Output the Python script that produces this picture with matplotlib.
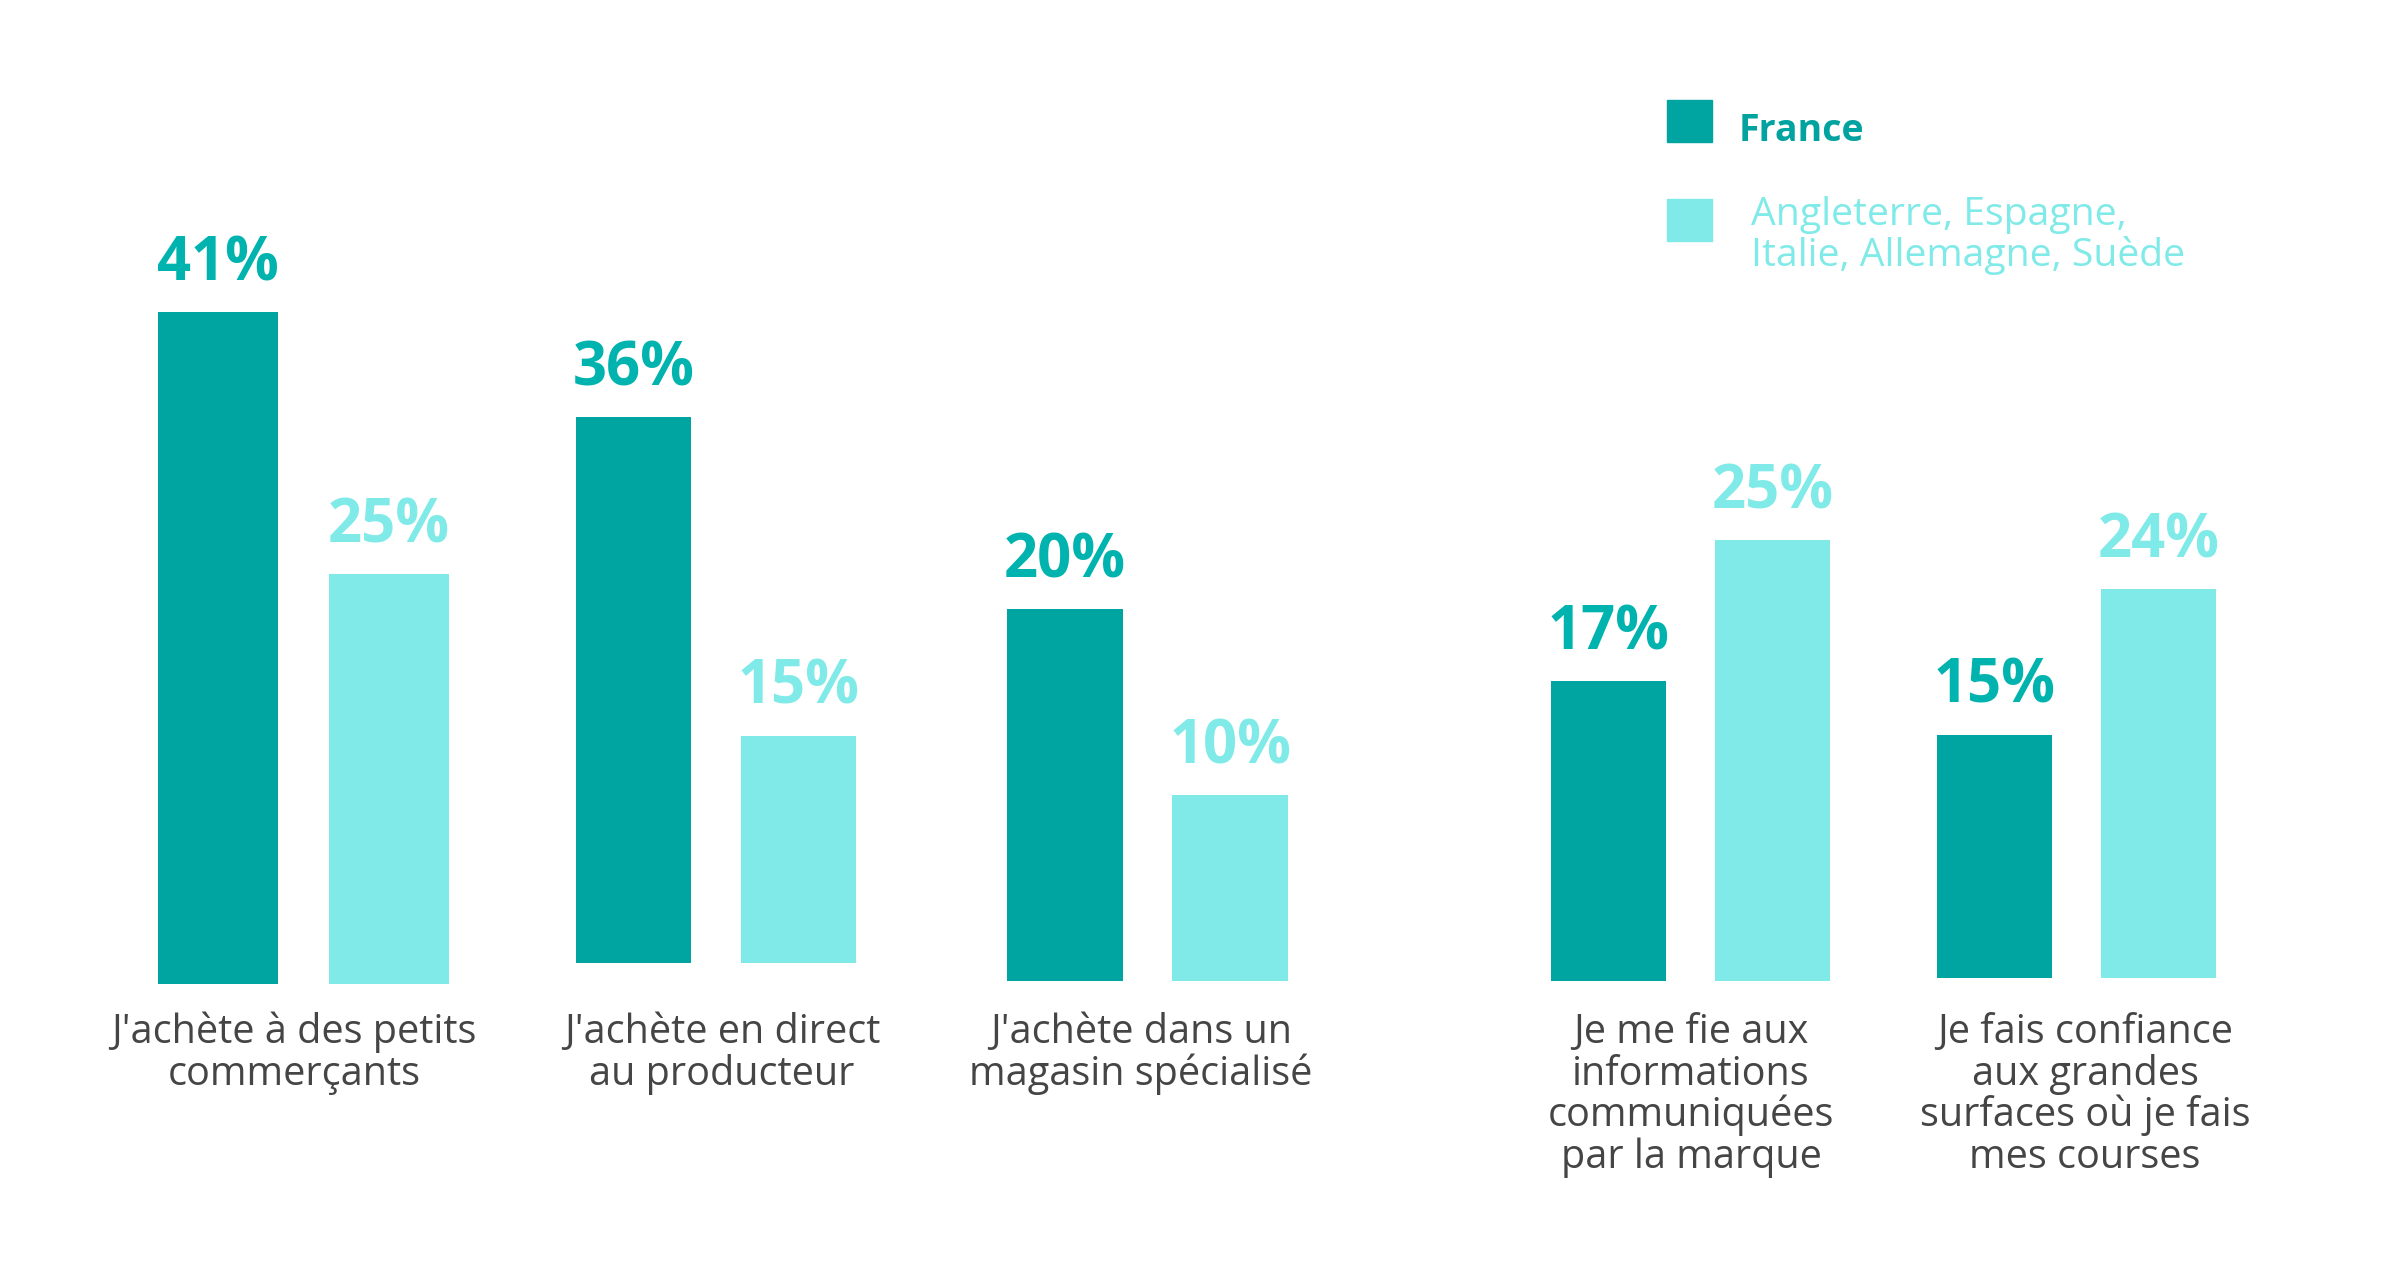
import matplotlib.pyplot as plt
from matplotlib.patches import Rectangle

# data
categories = [
    ["J'achète à des petits", "commerçants"],
    ["J'achète en direct", "au producteur"],
    ["J'achète dans un", "magasin spécialisé"],
    ["Je me fie aux", "informations", "communiquées", "par la marque"],
    ["Je fais confiance", "aux grandes", "surfaces où je fais", "mes courses"],
]
france = [41, 36, 20, 17, 15]
others = [25, 15, 10, 25, 24]
series_names = ['France', 'Angleterre, Espagne,\nItalie, Allemagne, Suède']

# layout in pixels (left, right, baseline, top of tallest bar) -- each group has its own scale
W, H = 2400, 1281
groups_px = [
    (158, 449, 984, 312),
    (576, 856, 963, 417),
    (1007, 1288, 981, 609),
    (1551, 1830, 981, 540),
    (1937, 2216, 978, 589),
]
label_x = [294, 722, 1141, 1691, 2085]
label_y0 = 1043
line_pitch = 41.7

dark = '#00A5A1'
light = '#80EAE8'
num_dark = '#00B3AE'
grey = '#454545'
FONT = 'Open Sans'
plt.rcParams['font.family'] = [FONT, 'DejaVu Sans']

fig = plt.figure(figsize=(W / 100, H / 100), dpi=100)
fig.patch.set_facecolor('white')


def fx(x):
    return x / W


def fy(y):
    return 1 - y / H


for i, (l, r, base, top) in enumerate(groups_px):
    ax = fig.add_axes([fx(l), fy(base), (r - l) / W, (base - top) / H])
    vals = [france[i], others[i]]
    ax.bar([0, 1], vals, width=0.7, color=[dark, light])
    ax.set_xlim(-0.35, 1.35)
    ax.set_ylim(0, max(vals))
    ax.axis('off')
    for x, v, c in zip([0, 1], vals, [num_dark, light]):
        ax.annotate(f'{v}%', (x, v), xytext=(0, 23), textcoords='offset points',
                    ha='center', va='baseline', fontsize=43, fontweight='bold',
                    color=c, annotation_clip=False)
    for j, line in enumerate(categories[i]):
        fig.text(fx(label_x[i]), fy(label_y0 + j * line_pitch), line,
                 ha='center', va='baseline', fontsize=28.5, color=grey)

# legend
fig.add_artist(Rectangle((fx(1667), fy(142)), 45 / W, 42 / H,
                         transform=fig.transFigure, color=dark))
fig.add_artist(Rectangle((fx(1667), fy(241)), 45 / W, 42 / H,
                         transform=fig.transFigure, color=light))
fig.text(fx(1739), fy(141), series_names[0], ha='left', va='baseline',
         fontsize=27, fontweight='bold', color='#00A39F')
for j, line in enumerate(series_names[1].split('\n')):
    fig.text(fx(1751), fy(225 + j * 41), line, ha='left', va='baseline',
             fontsize=28.2, color=light)

fig.savefig('out.png', dpi=100, facecolor='white')
